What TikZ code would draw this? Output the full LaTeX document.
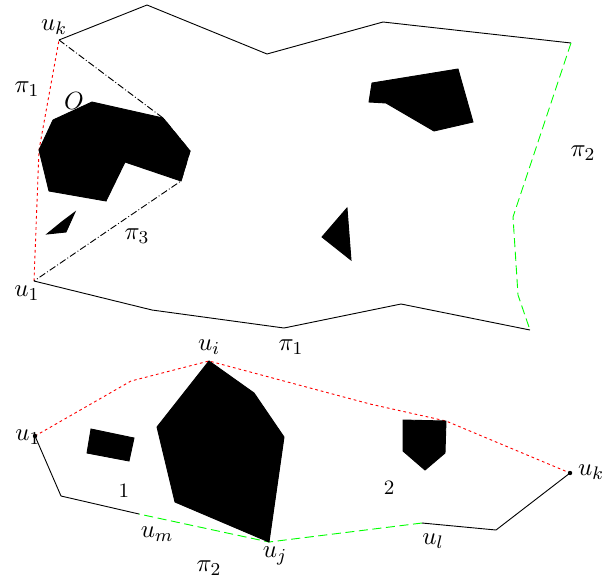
\documentclass[tikz,border=0pt]{standalone}
\usepackage{amsmath}
\usepackage{amssymb}
\usepackage{tikz}

\begin{document}
\begin{tikzpicture}[x=0.44pt, y=-0.44pt, >=stealth,
		every node/.style={font=\fontsize{11pt}{13pt}\selectfont}]
			\useasboundingbox (0,0) rectangle (613,585);
			\tikzset{
				obst/.style={fill=black, draw=black},
				red path/.style={red, dash pattern=on 1.2pt off 1.3pt},
				green path/.style={green, dash pattern=on 4pt off 2pt},
				vis path/.style={black, densely dash dot}
			}

			% Các đỉnh của hình trên
			\coordinate (uk) at (59, 40);
			\coordinate (u1) at (34, 281);
			\coordinate (pA) at (39, 150);
			\coordinate (pB) at (163, 118);
			\coordinate (pC) at (190, 151);
			\coordinate (pD) at (181, 181);
			\coordinate (tr) at (571, 43);
			\coordinate (br) at (530, 330);

			% Biên trên và biên dưới
			\draw (uk) -- (147, 5) -- (267, 54) -- (383, 22) -- (tr);
			\draw (u1) -- (152, 310) -- (284, 328) -- (401, 304) -- (br);

			% Các đường pi_1, pi_2, pi_3
			\draw[red path] (u1) -- (pA) -- (uk);
			\draw[green path] (tr) -- (513, 217) -- (518, 295) -- (br);
			\draw[vis path] (uk) -- (pB) -- (pC) -- (pD) -- (u1);

			% Các chướng ngại vật
			\filldraw[obst] (pA) -- (53, 120) -- (92, 102) -- (pB) -- (pC) -- (pD)
				-- (125, 162) -- (106, 201) -- (49, 191) -- cycle;
			\filldraw[obst] (47, 234) -- (63, 221) -- (75, 212) -- (66, 232) -- cycle;
			\filldraw[obst] (369, 102) -- (372, 83) -- (458, 69) -- (473, 122)
				-- (434, 131) -- (386, 103) -- cycle;
			\filldraw[obst] (322, 237) -- (347, 208) -- (351, 260) -- cycle;

			% Nhãn hình trên
			\node (lk) at (54, 27) {$u_k$};
			\node (l1) at (27, 293) {$u_1$};
			\node (lO) at (74, 101) {$O$};
			\node (lp1) at (27, 89) {$\pi_1$};
			\node (lp2) at (583, 153) {$\pi_2$};
			\node (lp3) at (137, 236) {$\pi_3$};

			% Các đỉnh của hình dưới
			\coordinate (v1) at (35, 436);
			\coordinate (vi) at (209, 361);
			\coordinate (vq) at (446, 421);
			\coordinate (vk) at (570, 473);
			\coordinate (vl) at (422, 523);
			\coordinate (vj) at (269, 542);
			\coordinate (vm) at (139, 514);

			% Đường pi_1 và pi_2 ở hình dưới
			\draw[red path] (v1) -- (131, 381) -- (vi) -- (370, 404) -- (vq) -- (vk);
			\draw (vk) -- (496, 530) -- (vl);
			\draw[green path] (vl) -- (vj) -- (vm);
			\draw (vm) -- (61, 496) -- (v1);

			% Chướng ngại vật hình dưới
			\filldraw[obst] (vi) -- (254, 393) -- (284, 437) -- (vj) -- (175, 502)
				-- (157, 427) -- cycle;
			\filldraw[obst] (91, 429) -- (134, 438) -- (129, 461) -- (87, 453) -- cycle;
			\filldraw[obst] (403, 420) -- (vq) -- (445, 453) -- (425, 470)
				-- (403, 451) -- cycle;

			% Nhãn hình dưới
			\node (mi) at (209, 347) {$u_i$};
			\node (m1) at (28, 437) {$u_1$};
			\node (mk) at (591, 472) {$u_k$};
			\node (mj) at (275, 556) {$u_j$};
			\node (mm) at (157, 534) {$u_m$};
			\node (ml) at (433, 541) {$u_l$};
			\node (mp1) at (291, 347) {$\pi_1$};
			\node (mp2) at (209, 568) {$\pi_2$};
			\node (n1) at (124, 491) {\small $1$};
			\node (n2) at (389, 488) {\small $2$};
			\fill (v1) circle (2.2);
			\fill (vk) circle (2.2);
		\end{tikzpicture}
\end{document}
